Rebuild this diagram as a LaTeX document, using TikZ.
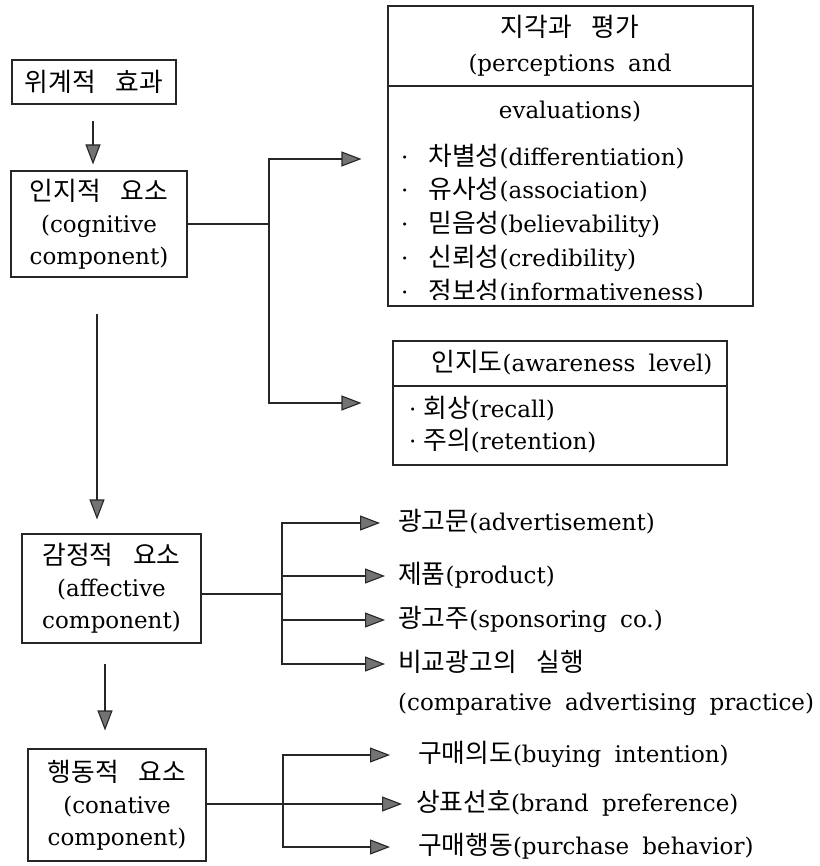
\documentclass[tikz,border=0pt]{standalone}
\usepackage{fontspec}
\setmainfont{DejaVu Serif}[WordSpace=1.8]
\newfontfamily\kr{Noto Sans CJK KR}[Scale=1.12,WordSpace=3.4]
\usetikzlibrary{arrows.meta}
% bullet item: dot, gap, Korean term
\newcommand\kbul[2][20pt]{·\hspace{#1}{\kr #2}}
\tikzset{
  line/.style={draw=black!85, line width=1.1pt},
  arr/.style={line, -{Triangle[length=20pt,width=15pt,fill=black!55]}},
  box/.style={draw=black!85, line width=1.1pt, inner sep=0pt, align=center,
              font=\fontsize{23}{32}\selectfont},
  frame/.style={draw=black!85, line width=1.1pt, inner sep=0pt},
  txt/.style={inner sep=0pt, anchor=west, text height=19pt, text depth=5pt,
              font=\fontsize{23}{32}\selectfont},
}
\begin{document}
\begin{tikzpicture}[x=1pt,y=1pt]
\useasboundingbox (0,0) rectangle (819,-866);

% left column of components
\node[box, minimum width=164, minimum height=44]  (hier) at (94,-82)     {{\kr 위계적 효과}};
\node[box, minimum width=176, minimum height=106] (cog)  at (99,-224)    {{\kr 인지적 요소}\\(cognitive\\component)};
\node[box, minimum width=179, minimum height=109] (aff)  at (111.5,-588.5) {{\kr 감정적 요소}\\(affective\\component)};
\node[box, minimum width=178, minimum height=112] (con)  at (117,-805)   {{\kr 행동적 요소}\\(conative\\component)};

% perceptions and evaluations
\node[frame, minimum width=365, minimum height=300] (perc) at (570.5,-156) {};
\draw[line] (perc.west |- 0,-86) -- (perc.east |- 0,-86);
\begin{scope}
  \clip (388,-6) rectangle (753,-299);
  \node[txt, anchor=center] (pt1) at (570,-30)  {{\kr 지각과 평가}};
  \node[txt, anchor=center] (pt2) at (570,-65)  {(perceptions and};
  \node[txt, anchor=center] (pt3) at (570,-112) {evaluations)};
  \node[txt] (p1) at (401,-159) {\kbul{차별성}(differentiation)};
  \node[txt] (p2) at (401,-192) {\kbul{유사성}(association)};
  \node[txt] (p3) at (401,-226) {\kbul{믿음성}(believability)};
  \node[txt] (p4) at (401,-259) {\kbul{신뢰성}(credibility)};
  \node[txt] (p5) at (401,-293) {\kbul{정보성}(informativeness)};
\end{scope}

% awareness level
\node[frame, minimum width=334, minimum height=124] (aw) at (560,-403) {};
\draw[line] (aw.west |- 0,-386) -- (aw.east |- 0,-386);
\node[txt, anchor=center] (awt) at (572,-364) {{\kr 인지도}(awareness level)};
\node[txt] (a1) at (409,-410) {\kbul[7pt]{회상}(recall)};
\node[txt] (a2) at (409,-442) {\kbul[7pt]{주의}(retention)};

% affective targets
\node[txt] (e1) at (398,-523) {{\kr 광고문}(advertisement)};
\node[txt] (e2) at (398,-576) {{\kr 제품}(product)};
\node[txt] (e3) at (398,-620) {{\kr 광고주}(sponsoring co.)};
\node[txt] (e4) at (398,-664) {{\kr 비교광고의 실행}};
\node[txt] (e5) at (398,-703) {(comparative advertising practice)};

% conative targets
\node[txt] (c1) at (418,-755) {{\kr 구매의도}(buying intention)};
\node[txt] (c2) at (416,-804) {{\kr 상표선호}(brand preference)};
\node[txt] (c3) at (418,-847) {{\kr 구매행동}(purchase behavior)};

% vertical flow
\draw[arr] ([xshift=-1pt,yshift=-16pt]hier.south) -- ([xshift=-6pt,yshift=6pt]cog.north);
\draw[arr] ([xshift=-2pt,yshift=-36pt]cog.south) -- ([xshift=-14.5pt,yshift=14pt]aff.north);
\draw[arr] ([xshift=-6.5pt,yshift=-20pt]aff.south) -- ([xshift=-12pt,yshift=18pt]con.north);

% cognitive branches
\coordinate (gj) at (269,-224);
\draw[line] (cog.east) -- (gj);
\draw[arr, shorten >=26pt] (gj) |- (perc.west |- p1);
\draw[arr, shorten >=31pt] (gj) |- (aw.west);

% affective branches
\coordinate (fj) at (282,-594);
\draw[line] (aff.east |- fj) -- (fj);
\draw[arr, shorten >=18pt] (fj) |- (e1.west);
\draw[arr, shorten >=13pt] (fj) |- (e2.west);
\draw[arr, shorten >=13pt] (fj) |- (e3.west);
\draw[arr, shorten >=13pt] (fj) |- (e4.west);

% conative branches
\coordinate (nj) at (283,-804);
\draw[arr, shorten >=14pt] (con.east |- nj) -- (c2.west);
\draw[arr, shorten >=28pt] (nj) |- (c1.west);
\draw[arr, shorten >=28pt] (nj) |- (c3.west);
\end{tikzpicture}
\end{document}
